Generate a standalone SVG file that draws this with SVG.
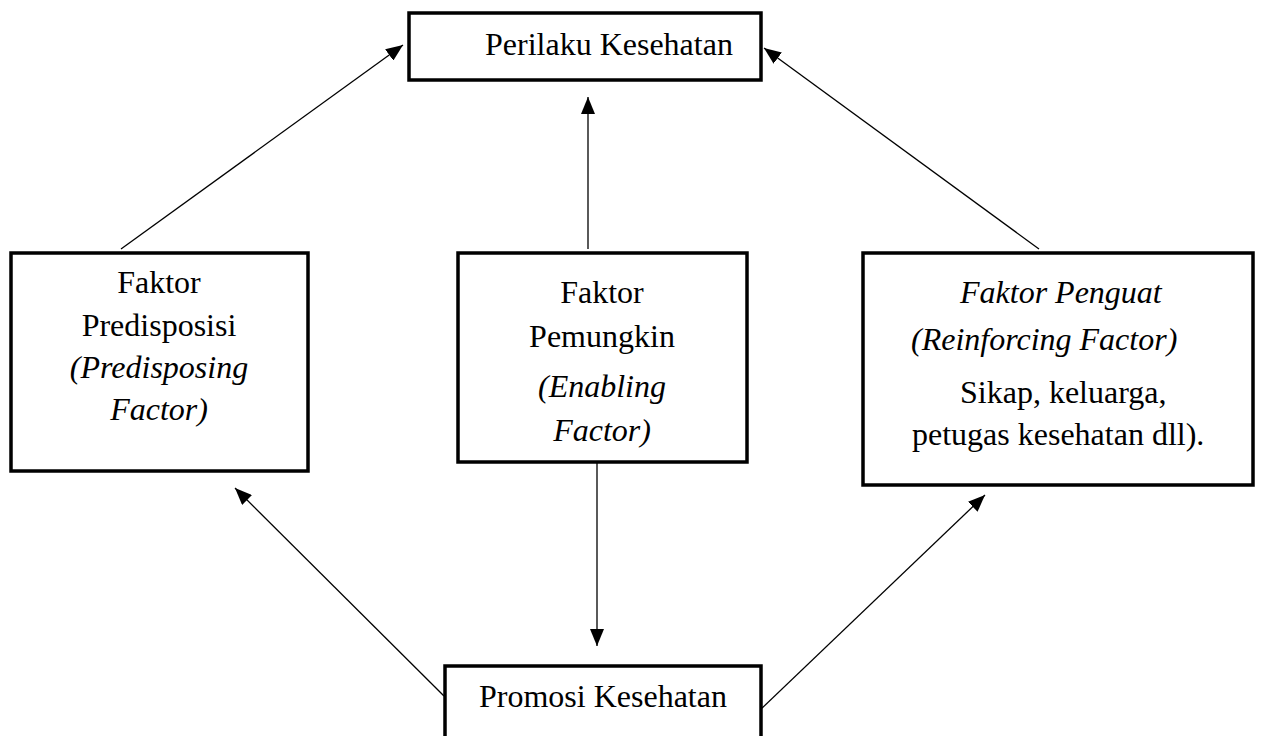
<svg xmlns="http://www.w3.org/2000/svg" width="1261" height="736" viewBox="0 0 1261 736">
<style>
.box{fill:#fff;stroke:#000;stroke-width:3.5}
.t{font-family:"Liberation Serif","Times New Roman",serif;font-size:32px;fill:#000}
.i{font-style:italic}
.c{stroke:#000;stroke-width:1.3;fill:none;marker-end:url(#ah)}
</style>
<defs>
<marker id="ah" markerUnits="userSpaceOnUse" markerWidth="18" markerHeight="14" refX="17" refY="7" orient="auto">
<path d="M0,0 L17,7 L0,14 z" fill="#000"/>
</marker>
</defs>
<rect width="1261" height="736" fill="#fff"/>
<g id="connectors">
<line class="c" x1="121" y1="249" x2="403" y2="45"/>
<line class="c" x1="588" y1="249" x2="588" y2="97"/>
<line class="c" x1="1039" y1="249" x2="764" y2="48"/>
<line class="c" x1="597" y1="463" x2="597" y2="646"/>
<line class="c" x1="444" y1="696" x2="235" y2="488"/>
<line class="c" x1="761" y1="709" x2="985" y2="495"/>
</g>
<g id="perilaku">
<rect class="box" x="409" y="13" width="352" height="67"/>
<text class="t" x="485" y="55">Perilaku Kesehatan</text>
</g>
<g id="predisposisi">
<rect class="box" x="11" y="253" width="297" height="218"/>
<text class="t" text-anchor="middle" x="159" y="293">Faktor</text>
<text class="t" text-anchor="middle" x="159" y="336">Predisposisi</text>
<text class="t i" text-anchor="middle" x="159" y="378">(Predisposing</text>
<text class="t i" text-anchor="middle" x="159" y="420">Factor)</text>
</g>
<g id="pemungkin">
<rect class="box" x="458" y="253" width="289" height="209"/>
<text class="t" text-anchor="middle" x="602" y="303">Faktor</text>
<text class="t" text-anchor="middle" x="602" y="347">Pemungkin</text>
<text class="t i" text-anchor="middle" x="602" y="397">(Enabling</text>
<text class="t i" text-anchor="middle" x="602" y="441">Factor)</text>
</g>
<g id="penguat">
<rect class="box" x="863" y="253" width="390" height="232"/>
<text class="t i" x="960" y="303">Faktor Penguat</text>
<text class="t i" x="911" y="350">(Reinforcing Factor)</text>
<text class="t" x="960" y="403">Sikap, keluarga,</text>
<text class="t" x="912" y="445">petugas kesehatan dll).</text>
</g>
<g id="promosi">
<rect class="box" x="445" y="666" width="316" height="90"/>
<text class="t" x="479" y="707">Promosi Kesehatan</text>
</g>
</svg>
